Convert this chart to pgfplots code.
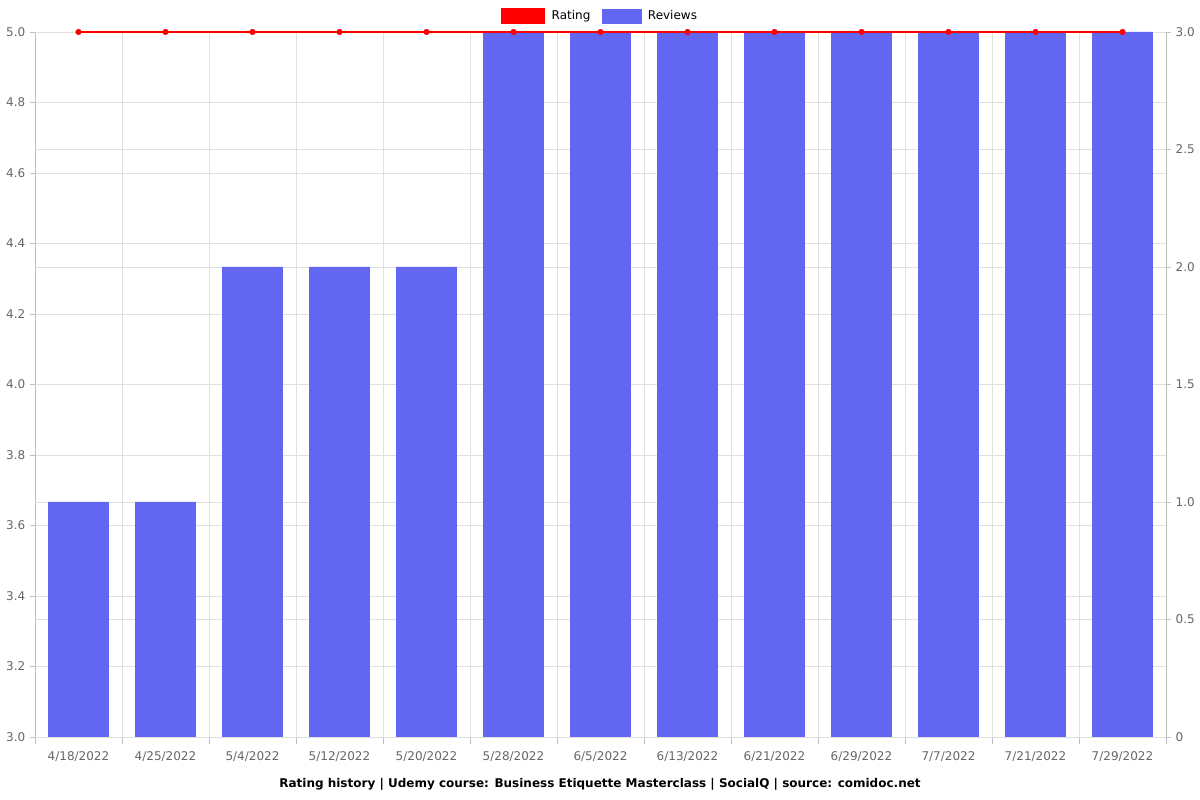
\documentclass[border=0pt]{standalone}
\usepackage{pgfplots}
\pgfplotsset{compat=1.18}
\usepackage{fontspec}
\setmainfont{DejaVu Sans}
\definecolor{barblue}{RGB}{99,102,241}
\definecolor{ticktxt}{RGB}{102,102,102}
\definecolor{axline}{RGB}{190,190,190}
\definecolor{gridc}{RGB}{224,224,224}
\begin{document}
\begin{tikzpicture}
\useasboundingbox (0,0) rectangle (900pt,600pt);
\pgfplotsset{
  base/.style={
    at={(26.25pt,47.25pt)}, anchor=south west,
    scale only axis, width=848.25pt, height=528.75pt,
    xmin=-0.5, xmax=12.5,
    tick label style={font=\fontsize{9}{11}\selectfont, text=ticktxt},
    /pgf/number format/assume math mode=true,
    axis line style={draw=axline},
    grid style={draw=gridc, line width=0.6pt},
    tick style={draw=axline},
    tick align=outside,
    major tick length=3.75pt,
    minor tick length=5.25pt,
  }
}
% axis 1: left scale, grids
\begin{axis}[base,
  ymin=3, ymax=5,
  axis x line*=bottom, axis y line*=left,
  xtick={0,...,12},
  xticklabels={4/18/2022,4/25/2022,5/4/2022,5/12/2022,5/20/2022,5/28/2022,6/5/2022,6/13/2022,6/21/2022,6/29/2022,7/7/2022,7/21/2022,7/29/2022},
  minor xtick={-0.5,0.5,1.5,2.5,3.5,4.5,5.5,6.5,7.5,8.5,9.5,10.5,11.5,12.5},
  major x tick style={draw=none},
  xminorgrids=true, xmajorgrids=false,
  ytick={3,3.2,3.4,3.6,3.8,4,4.2,4.4,4.6,4.8,5},
  yticklabel style={/pgf/number format/.cd, fixed, fixed zerofill, precision=1},
  ymajorgrids=true,
  xticklabel style={yshift=-3.5pt},
]
\addplot[draw=none] coordinates {(0,3)};
\end{axis}
% axis 2: bars, right scale
\begin{axis}[base,
  ymin=0, ymax=3,
  axis x line=none, axis y line*=right,
  ytick={0,0.5,1,1.5,2,2.5,3},
  yticklabels={0,0.5,1.0,1.5,2.0,2.5,3.0},
  ymajorgrids=true,
]
\addplot[ybar, bar width=0.7, fill=barblue, draw=none, bar shift=0pt] coordinates {
(0,1) (1,1) (2,2) (3,2) (4,2) (5,3) (6,3) (7,3) (8,3) (9,3) (10,3) (11,3) (12,3)};
\end{axis}
% axis 3: rating line
\begin{axis}[base,
  ymin=3, ymax=5, hide axis, clip=false,
  legend style={at={(0.5,1)}, yshift=12pt, anchor=center, draw=none, fill=none,
    legend columns=2, font=\fontsize{9}{11}\selectfont,
    /tikz/every odd column/.append style={column sep=3pt},
    /tikz/every even column/.append style={column sep=6.5pt}},
  legend cell align=left,
]
\addplot[red, line width=1.3pt, mark=*, mark size=1.6pt, mark options={fill=red, draw=red},
  legend image code/.code={\fill[red] (0pt,-5.25pt) rectangle (31.5pt,5.25pt);}] coordinates {
(0,5) (1,5) (2,5) (3,5) (4,5) (5,5) (6,5) (7,5) (8,5) (9,5) (10,5) (11,5) (12,5)};
\addlegendentry{Rating}
\addlegendimage{legend image code/.code={\fill[barblue] (0pt,-5.25pt) rectangle (29.25pt,5.25pt);}}
\addlegendentry{Reviews}
\end{axis}
\node[font=\bfseries\fontsize{9}{11}\selectfont] at (450pt,11.5pt) {Rating history | Udemy course: Business Etiquette Masterclass | SocialQ | source: comidoc.net};
\end{tikzpicture}
\end{document}
